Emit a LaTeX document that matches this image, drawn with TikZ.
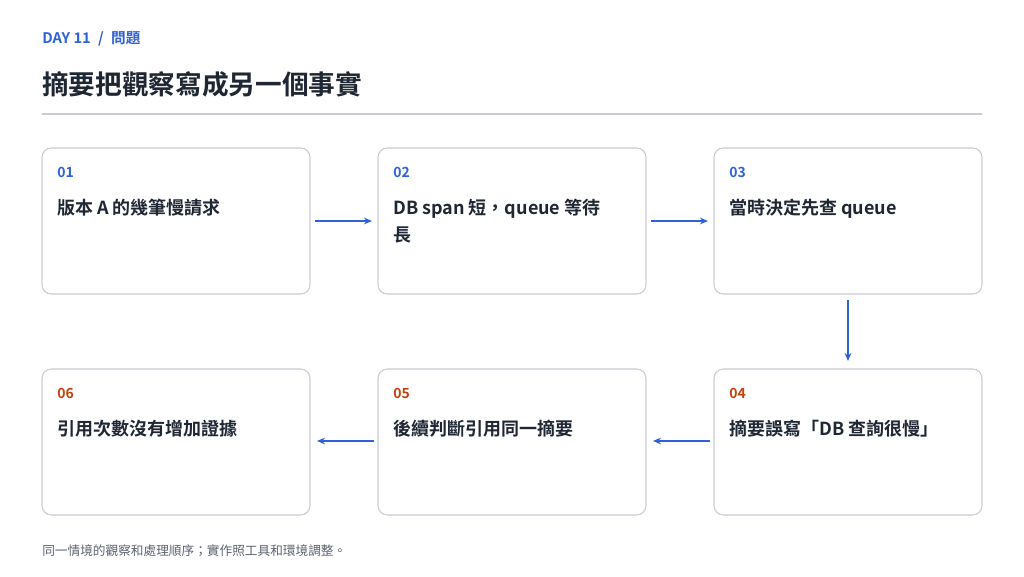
\documentclass[tikz,border=0pt]{standalone}
\usepackage{fontspec}
\setmainfont{Noto Sans CJK TC}
\newfontfamily\cjkb{Noto Sans CJK TC Bold}
\usetikzlibrary{arrows.meta}
\definecolor{blu}{HTML}{2F62D8}
\definecolor{org}{HTML}{C2410C}
\definecolor{ink}{HTML}{1E2733}
\definecolor{gry}{HTML}{5B6472}
\definecolor{bord}{HTML}{C9CDD3}
\begin{document}
\begin{tikzpicture}[x=0.75pt,y=-0.75pt,
 box/.style={draw=bord,line width=0.8pt,rounded corners=7pt,fill=white},
 num/.style={anchor=west,font=\cjkb\fontsize{10.5}{12}\selectfont,inner sep=0},
 txt/.style={anchor=north west,font=\cjkb\fontsize{13.5}{20}\selectfont,text=ink,inner sep=0,align=left},
 arr/.style={-{Stealth[length=6pt,width=5pt]},draw=blu,line width=1.2pt}]
\useasboundingbox[fill=white] (0,0) rectangle (1024,576);
\node[anchor=west,inner sep=0,text=blu,font=\cjkb\fontsize{11}{13}\selectfont] (hd) at (42,39) {DAY 11\enspace/\enspace 問題};
\node[anchor=west,inner sep=0,text=ink,font=\cjkb\fontsize{20}{24}\selectfont] (tt) at (42,84) {摘要把觀察寫成另一個事實};
\draw[bord,line width=0.8pt] (42,114) -- (982,114);
\foreach \n/\x/\y/\c/\t in {1/42/148/blu/01,2/378/148/blu/02,3/714/148/blu/03,6/42/369/org/06,5/378/369/org/05,4/714/369/org/04}{
  \draw[box] (\x,\y) rectangle ++(268,146);
  \node[box,draw=none,fill=none,minimum width=0,inner sep=0] (b\n) at (\x+134,\y+73) {};
  \node[num,text=\c] (n\n) at (\x+15,\y+24) {\t};
}
\node[txt] (t1) at (57,199) {版本 A 的幾筆慢請求};
\node[txt] (t2) at (393,199) {DB span 短，queue 等待\\長};
\node[txt] (t3) at (729,199) {當時決定先查 queue};
\node[txt] (t4) at (729,420) {摘要誤寫「DB 查詢很慢」};
\node[txt] (t5) at (393,420) {後續判斷引用同一摘要};
\node[txt] (t6) at (57,420) {引用次數沒有增加證據};
\coordinate (a1s) at (315,221); \coordinate (a1e) at (372,221);
\coordinate (a2s) at (651,221); \coordinate (a2e) at (708,221);
\coordinate (a3s) at (848,300); \coordinate (a3e) at (848,361);
\coordinate (a4s) at (710,441); \coordinate (a4e) at (653,441);
\coordinate (a5s) at (374,441); \coordinate (a5e) at (317,441);
\draw[arr] (a1s) -- (a1e);
\draw[arr] (a2s) -- (a2e);
\draw[arr] (a3s) -- (a3e);
\draw[arr] (a4s) -- (a4e);
\draw[arr] (a5s) -- (a5e);
\node[anchor=west,inner sep=0,text=gry,font=\fontsize{9.5}{11}\selectfont] (ft) at (42,551) {同一情境的觀察和處理順序；實作照工具和環境調整。};
\end{tikzpicture}
\end{document}
